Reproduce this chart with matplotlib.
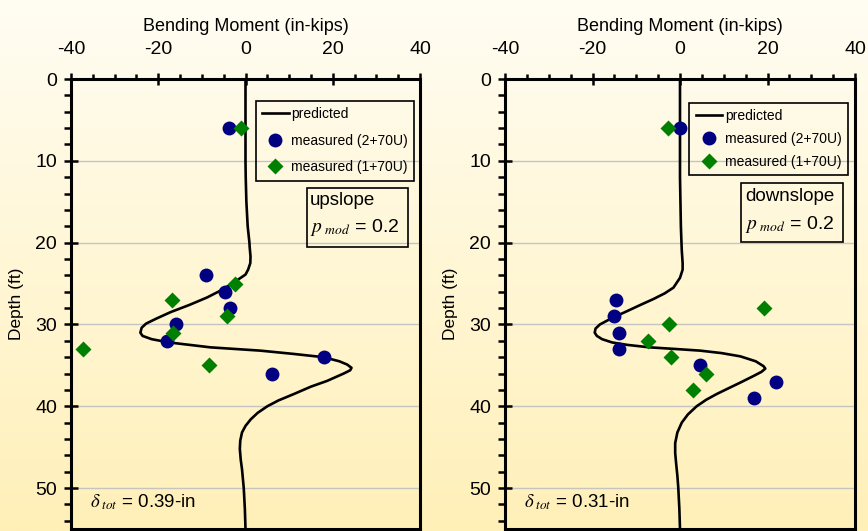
import numpy as np
import matplotlib
matplotlib.use("Agg")
import matplotlib.pyplot as plt
from matplotlib.ticker import MultipleLocator
from matplotlib.patches import Rectangle

plt.rcParams['font.family'] = ['Liberation Sans', 'DejaVu Sans']
plt.rcParams['mathtext.fontset'] = 'stix'
plt.rcParams['axes.unicode_minus'] = False

# predicted bending moment (in-kips) vs depth (ft)
up_depth = [0, 10, 12, 15, 18, 20, 20.5, 21.7, 22.5, 23.3, 23.9, 24.9, 25.8, 26.7, 27.6,
            28.5, 29.3, 29.9, 30.4, 31.0, 31.4, 31.8, 32.2, 32.8, 33.2, 33.6, 34.0, 34.5,
            34.9, 35.3, 35.6, 36.0, 36.9, 37.6, 38.5, 39.3, 40.0, 40.8, 41.6, 42.4, 43.2,
            44.2, 45.2, 46.5, 47.7, 50.0, 52.5, 55]
up_moment = [0, 0, 0.05, 0.2, 0.5, 0.9, 0.95, 1.15, 1.1, 0.6, 0.0, -2.75, -5.5, -8.8, -12.8,
             -17.2, -20.5, -22.8, -23.8, -24.1, -23.6, -21.5, -17.5, -8.0, 3.4, 11.0, 17.9, 21.5,
             23.3, 24.3, 24.0, 22.5, 18.7, 15.0, 11.1, 7.5, 5.0, 2.8, 1.2, 0.0, -0.8,
             -1.2, -1.3, -1.1, -0.8, -0.4, -0.15, 0]

down_depth = [0, 12, 15, 18, 20.9, 22.5, 23.3, 24.3, 25.5, 26.2, 26.9, 27.6, 28.4, 29.2,
              30.0, 30.5, 31.0, 31.4, 31.8, 32.2, 32.5, 32.8, 33.0, 33.2, 33.5, 33.9, 34.5,
              35.1, 35.4, 35.8, 36.3, 37.1, 37.9, 38.5, 39.2, 40.0, 41.0, 42.0, 43.2, 44.5,
              45.7, 46.9, 48.5, 49.9, 52.5, 55]
down_moment = [0, 0, 0.1, 0.2, 0.4, 0.6, 0.6, 0.0, -1.5, -3.5, -6.1, -9.0, -12.2, -15.5,
               -18.3, -19.3, -19.5, -19.0, -17.8, -15.5, -12.0, -6.9, -1.0, 4.6, 9.5, 13.8, 17.3,
               19.1, 19.5, 18.6, 16.8, 13.8, 10.7, 8.4, 6.0, 3.8, 1.8, 0.4, -0.6, -1.1,
               -1.1, -0.9, -0.6, -0.4, -0.15, 0]

# measured, inclinometer 2+70U
up_m2_depth = [6, 24, 26, 28, 30, 32, 34, 36]
up_m2_moment = [-3.7, -9.0, -4.8, -3.6, -16.0, -18.1, 18.0, 6.0]
down_m2_depth = [6, 27, 29, 31, 33, 35, 37, 39]
down_m2_moment = [0.0, -14.7, -15.2, -14.0, -14.0, 4.6, 22.0, 17.0]

# measured, inclinometer 1+70U
up_m1_depth = [6, 25, 27, 29, 31, 33, 35]
up_m1_moment = [-1.1, -2.4, -16.8, -4.2, -16.7, -37.2, -8.3]
down_m1_depth = [6, 28, 30, 32, 34, 36, 38]
down_m1_moment = [-2.7, 19.1, -2.5, -7.4, -2.0, 6.0, 2.9]

panels = [
    dict(depth=up_depth, moment=up_moment, m2d=up_m2_depth, m2m=up_m2_moment,
         m1d=up_m1_depth, m1m=up_m1_moment, name="upslope", delta="0.39",
         left=71, width=349, leg=(0.53, 0.951), legsp=0.9, box=(0.676, 0.627, 0.29, 0.131),
         tx=0.685, ty1=0.731, ty2=0.669),
    dict(depth=down_depth, moment=down_moment, m2d=down_m2_depth, m2m=down_m2_moment,
         m1d=down_m1_depth, m1m=down_m1_moment, name="downslope", delta="0.31",
         left=505, width=350, leg=(0.527, 0.947), legsp=0.65, box=(0.674, 0.638, 0.292, 0.131),
         tx=0.686, ty1=0.738, ty2=0.676),
]

W, H = 868, 531
fig = plt.figure(figsize=(W / 100, H / 100), dpi=100)

# background gradient
bg = fig.add_axes([0, 0, 1, 1], zorder=-10)
top = np.array([255, 253, 243]) / 255
bot = np.array([255, 240, 184]) / 255
t = np.linspace(0, 1, 256)[:, None]
grad = top[None, :] * (1 - t) + bot[None, :] * t
bg.imshow(grad[:, None, :], aspect='auto', extent=[0, 1, 0, 1])
bg.axis('off')

for p in panels:
    ax = fig.add_axes([p['left'] / W, 1 - 529 / H, p['width'] / W, 450 / H])
    ax.set_facecolor('none')
    ax.plot(p['moment'], p['depth'], color='black', lw=1.9, label='predicted', zorder=3,
            solid_joinstyle='round')
    ax.plot(p['m2m'], p['m2d'], 'o', color='#000080', ms=10, mec='none',
            label='measured (2+70U)', zorder=4)
    ax.plot(p['m1m'], p['m1d'], 'D', color='#008000', ms=8, mec='none',
            label='measured (1+70U)', zorder=5)

    ax.set_xlim(-40, 40)
    ax.set_ylim(55, 0)
    ax.xaxis.set_major_locator(MultipleLocator(20))
    ax.xaxis.set_minor_locator(MultipleLocator(5))
    ax.yaxis.set_major_locator(MultipleLocator(10))
    ax.yaxis.set_minor_locator(MultipleLocator(2))
    ax.xaxis.tick_top()
    ax.xaxis.set_label_position('top')
    ax.tick_params(axis='x', which='major', direction='inout', length=8, width=1.8,
                   labelsize=14, pad=11)
    ax.tick_params(axis='x', which='minor', direction='out', length=3.5, width=1.8)
    ax.tick_params(axis='y', which='major', direction='inout', length=10, width=1.8,
                   labelsize=14, pad=5)
    ax.tick_params(axis='y', which='minor', direction='out', length=5, width=1.8)
    ax.grid(axis='y', which='major', color='#c4c4c4', lw=1)
    for s in ax.spines.values():
        s.set_linewidth(2.2)
    ax.set_xlabel('Bending Moment (in-kips)', fontsize=13, labelpad=7)
    ax.set_ylabel('Depth (ft)', fontsize=12.5, labelpad=8)

    leg = ax.legend(loc='upper left', bbox_to_anchor=p['leg'], fontsize=10,
                    fancybox=False, edgecolor='black', facecolor='none', framealpha=1,
                    handlelength=1.9, handletextpad=0.2, labelspacing=p['legsp'],
                    borderpad=0.45, borderaxespad=0)
    leg.get_frame().set_linewidth(1.2)

    bx = p['box']
    ax.add_patch(Rectangle((bx[0], bx[1]), bx[2], bx[3], transform=ax.transAxes,
                           fill=False, ec='black', lw=1.2, zorder=6))
    ax.text(p['tx'], p['ty1'], p['name'], transform=ax.transAxes, fontsize=13.5,
            va='center', ha='left')
    ax.text(p['tx'], p['ty2'], r"$p_{\ mod}$ = 0.2", transform=ax.transAxes,
            fontsize=14, va='center', ha='left')
    ax.text(0.054, 0.06, r"$\delta_{\ tot}$ = " + p['delta'] + "-in",
            transform=ax.transAxes, fontsize=13.5, va='center', ha='left')

fig.savefig('out.png', dpi=100)
